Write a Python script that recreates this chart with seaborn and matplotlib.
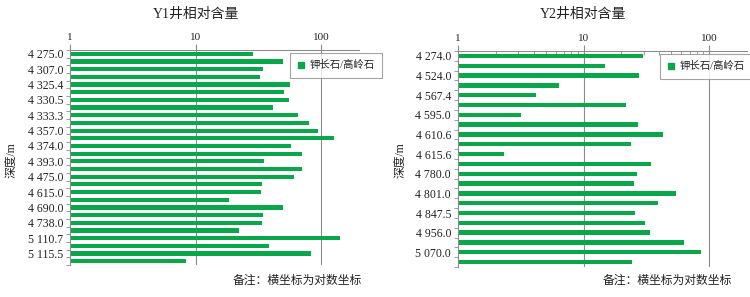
import numpy as np
import pandas as pd
import matplotlib
matplotlib.use("Agg")
import matplotlib.pyplot as plt
from matplotlib.lines import Line2D
from matplotlib.ticker import FixedLocator, NullFormatter, FixedFormatter
import seaborn as sns

# Y1 well: every second bar carries a depth label
y1_labels = ["4 275.0", "4 307.0", "4 325.4", "4 330.5", "4 333.3", "4 357.0", "4 374.0",
             "4 393.0", "4 475.0", "4 615.0", "4 690.0", "4 738.0", "5 110.7", "5 115.5"]
y1_values = [28.9, 50.1, 34.3, 32.5, 56.6, 51.0, 55.6, 41.2, 65.2, 80.7, 94.1, 125.4, 57.3, 70.2,
             35.1, 70.2, 60.2, 33.7, 33.1, 18.5, 50.1, 34.5, 33.7, 22.2, 140.0, 38.7, 82.2, 8.35]

# Y2 well
y2_labels = ["4 274.0", "4 524.0", "4 567.4", "4 595.0", "4 610.6", "4 615.6",
             "4 780.0", "4 801.0", "4 847.5", "4 956.0", "5 070.0"]
y2_values = [29.7, 14.9, 27.8, 6.37, 4.2, 21.7, 3.2, 27.1, 42.9, 23.8, 2.32,
             34.6, 26.6, 25.2, 54.5, 39.1, 25.8, 30.8, 34.0, 63.5, 85.3, 24.3]

titles = ["Y1井相对含量", "Y2井相对含量"]
legend_text = "钾长石/高岭石"
note_text = "备注：横坐标为对数坐标"
ylabel_text = "深度/m"

GREEN = "#0aa64a"
GRID = "#8c8c8c"
TXT = "#222222"
FAM = ["Liberation Serif", "Noto Sans CJK SC", "DejaVu Sans"]

sns.set_style("white")
plt.rcParams["font.family"] = FAM

fig = plt.figure(figsize=(7.5, 2.97), dpi=100)

panels = [
    dict(labels=y1_labels, values=y1_values, rect=[70/750, 32/297, 289/750, 215/297],
         height=0.55, minor=False, leg=(290/750, 1-53/297), title_x=196/750,
         note_x=362/750, ylab_x=11/750),
    dict(labels=y2_labels, values=y2_values, rect=[458/750, 30/297, 289/750, 216/297],
         height=0.45, minor=True, leg=(660/750, 1-54/297), title_x=583/750,
         note_x=732/750, ylab_x=400/750),
]

for i, p in enumerate(panels):
    ax = fig.add_axes(p["rect"])
    n = len(p["values"])
    df = pd.DataFrame({"pos": np.arange(n), "val": p["values"]})
    sns.barplot(data=df, x="val", y="pos", orient="h", color=GREEN, saturation=1,
                width=p["height"], ax=ax, edgecolor="none")
    ax.set_xscale("log")
    ax.set_xlim(1, 200)
    ax.set_ylim(n - 0.5, -0.5)

    # top log axis
    ax.xaxis.tick_top()
    ax.xaxis.set_label_position("top")
    ax.xaxis.set_major_locator(FixedLocator([1, 10, 100]))
    ax.xaxis.set_major_formatter(FixedFormatter(["1", "10", "100"]))
    if p["minor"]:
        minors = [m * d for d in (1, 10, 100) for m in range(2, 10) if m * d < 200]
        ax.xaxis.set_minor_locator(FixedLocator(minors))
    else:
        ax.xaxis.set_minor_locator(FixedLocator([]))
    ax.xaxis.set_minor_formatter(NullFormatter())
    ax.tick_params(axis="x", which="major", top=True, bottom=False, length=4,
                   color=GRID, labelsize=8, labelcolor=TXT, pad=2)
    ax.tick_params(axis="x", which="minor", top=True, bottom=False, length=3,
                   direction="in", color=GRID)
    ax.grid(False)
    for v in (10, 100):
        ax.axvline(v, color=GRID, lw=0.8, zorder=0)

    # depth labels on every second bar, ticks between categories
    ax.yaxis.set_major_locator(FixedLocator(np.arange(0, n, 2)))
    ax.yaxis.set_major_formatter(FixedFormatter(p["labels"]))
    ax.yaxis.set_minor_locator(FixedLocator(np.arange(n + 1) - 0.5))
    ax.tick_params(axis="y", which="major", left=True, length=0, labelsize=8.5,
                   labelcolor=TXT, pad=5)
    ax.tick_params(axis="y", which="minor", left=True, length=3, color=GRID)
    ax.set_xlabel("")
    ax.set_ylabel("")

    for s in ("right", "bottom"):
        ax.spines[s].set_visible(False)
    for s in ("top", "left"):
        ax.spines[s].set_color(GRID)
        ax.spines[s].set_linewidth(0.8)

    handle = Line2D([], [], marker="s", color=GREEN, linestyle="none", markersize=5)
    leg = fig.legend([handle], [legend_text], loc="upper left", bbox_to_anchor=p["leg"],
                     bbox_transform=fig.transFigure, frameon=True, fancybox=False,
                     fontsize=7.5, handlelength=0.8, handletextpad=0.4, borderpad=0.7,
                     borderaxespad=0)
    leg.get_frame().set_edgecolor(GRID)
    leg.get_frame().set_linewidth(0.8)
    for t in leg.get_texts():
        t.set_color(TXT)

    fig.text(p["title_x"], 1 - 14/297, titles[i], ha="center", va="center",
             fontsize=10, color=TXT)
    fig.text(p["note_x"], 1 - 281/297, note_text, ha="right", va="center",
             fontsize=8.5, color=TXT)
    fig.text(p["ylab_x"], 1 - 160/297, ylabel_text, ha="center", va="center",
             rotation=90, fontsize=8.5, color=TXT)

fig.savefig("out.png", dpi=100)
